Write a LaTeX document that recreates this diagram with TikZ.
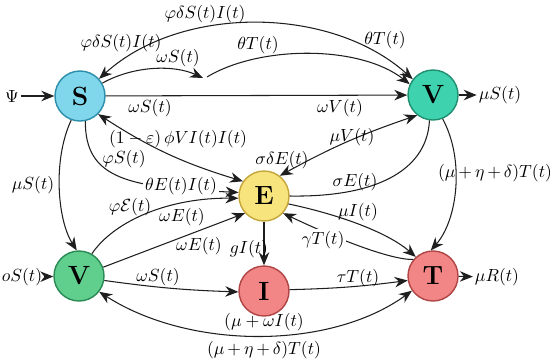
\documentclass[tikz,border=0pt]{standalone}
\usepackage{xcolor}
\usepackage{tikz}
\usetikzlibrary{arrows.meta,positioning,calc}
\definecolor{ink}{HTML}{1E1E1E}
\definecolor{sfill}{HTML}{80D6EA}
\definecolor{sline}{HTML}{2A8FAA}
\definecolor{vtfill}{HTML}{3FD2AE}
\definecolor{vtline}{HTML}{1F8F70}
\definecolor{efill}{HTML}{F8E47C}
\definecolor{eline}{HTML}{C4A53A}
\definecolor{vbfill}{HTML}{60CF8E}
\definecolor{vbline}{HTML}{2A8A55}
\definecolor{ifill}{HTML}{F28686}
\definecolor{iline}{HTML}{B04545}
\tikzset{
  comp/.style={circle, thick, minimum size=1.0cm, inner sep=0pt, font=\fontsize{15}{15}\selectfont\bfseries},
  rate/.style={inner sep=1pt, font=\normalsize},
  ratebg/.style={rate, fill=white},
  arrow/.style={-{Stealth[length=2.6mm,width=2.1mm]}, draw=ink, semithick},
  twoway/.style={{Stealth[length=2.6mm,width=2.1mm]}-{Stealth[length=2.6mm,width=2.1mm]}, draw=ink, semithick},
  plain/.style={draw=ink, semithick}
}
\begin{document}
\begin{tikzpicture}
  \useasboundingbox (0,0) rectangle (11,-7.26);

  % compartments
  \node[comp, fill=sfill, draw=sline] (S) at (1.6,-1.92) {S};
  \node[comp, fill=vtfill, draw=vtline] (Vt) at (8.66,-1.9) {V};
  \node[comp, fill=efill, draw=eline] (E) at (5.28,-3.92) {E};
  \node[comp, fill=vbfill, draw=vbline] (Vb) at (1.58,-5.52) {V};
  \node[comp, fill=ifill, draw=iline] (I) at (5.28,-5.82) {I};
  \node[comp, fill=ifill, draw=iline] (T) at (8.66,-5.52) {T};

  % inflow / outflow
  \node[rate] (psi) at (0.24,-1.92) {$\Psi$};
  \node[rate] (muS) at (10.0,-1.9) {$\mu S(t)$};
  \node[rate] (oS) at (0.44,-5.54) {$oS(t)$};
  \node[rate] (muR) at (9.94,-5.54) {$\mu R(t)$};
  \draw[arrow] (psi) -- (S);
  \draw[arrow] (Vt) -- (muS);
  \draw[arrow] (oS) -- (Vb);
  \draw[arrow] (T) -- (muR);

  % top arcs
  \coordinate (m1) at (4.06,-1.56);
  \coordinate (m2) at (4.14,-1.54);
  \draw[twoway] (S.42) .. controls (3.6,-0.1) and (6.6,-0.1) .. (Vt.142);
  \draw[arrow] (S.30) .. controls (2.7,-1.3) and (3.5,-1.3) .. (m1);
  \draw[arrow] (m2) .. controls (5.2,-0.9) and (7.2,-0.9) .. (Vt.155);
  \node[rate] at (4.1,-0.28) {$\varphi\delta S(t)I(t)$};
  \node[rate] at (2.42,-0.86) {$\varphi\delta S(t)I(t)$};
  \node[rate] at (3.56,-1.16) {$\omega S(t)$};
  \node[rate] at (5.16,-0.9) {$\theta T(t)$};
  \node[rate] at (7.7,-0.8) {$\theta T(t)$};

  % S to V
  \draw[arrow] (S) -- (Vt);
  \node[rate] at (3.0,-2.16) {$\omega S(t)$};
  \node[rate] at (6.8,-2.16) {$\omega V(t)$};

  % left side
  \draw[arrow] (S.250) .. controls (1.05,-3.2) and (1.15,-4.4) .. (Vb.95);
  \node[rate] at (0.66,-3.7) {$\mu S(t)$};
  \draw[twoway] (S.315) to[bend right=8] (E.145);
  \node[rate] at (3.56,-2.78) {$(1-\varepsilon)\,\phi VI(t)I(t)$};
  \draw[arrow] (S.282) .. controls (1.7,-3.6) and (2.6,-3.75) .. (E.172);
  \node[rate] at (2.48,-3.18) {$\varphi S(t)$};
  \node[ratebg] at (3.62,-3.72) {$\theta E(t)I(t)$};
  \draw[arrow] (Vb.60) .. controls (2.3,-4.4) and (3.4,-3.95) .. (E.185);
  \node[rate] at (2.6,-4.14) {$\varphi\mathcal{E}(t)$};
  \node[rate] at (3.64,-4.34) {$\omega E(t)$};
  \draw[arrow] (Vb.20) -- (E.222);
  \node[rate] at (3.98,-4.92) {$\omega E(t)$};

  % right side
  \draw[twoway] (E.52) to[bend left=5] (Vt.232);
  \node[rate] at (7.04,-2.74) {$\mu V(t)$};
  \node[rate] at (5.64,-3.2) {$\sigma\delta E(t)$};
  \draw[plain] (Vt.262) .. controls (8.55,-3.3) and (7.7,-3.95) .. (E.east);
  \node[rate] at (7.1,-3.64) {$\sigma E(t)$};
  \draw[arrow] (Vt.292) .. controls (9.3,-3.2) and (9.15,-4.4) .. (T.95);
  \node[rate] at (9.9,-3.46) {$(\mu\,{+}\,\eta\,{+}\,\delta)T(t)$};
  \draw[arrow] (E.342) .. controls (6.6,-4.25) and (7.7,-4.6) .. (T.132);
  \node[rate] at (7.16,-4.24) {$\mu I(t)$};
  \draw[arrow] (T.140) .. controls (7.9,-5.2) and (7.0,-4.9) .. (E.318);
  \node[ratebg] at (6.46,-4.8) {$\gamma T(t)$};

  % bottom
  \draw[arrow] (E) -- (I);
  \node[rate] at (4.98,-4.98) {$gI(t)$};
  \draw[arrow] (Vb.350) to[bend right=3] (I.182);
  \node[rate] at (3.16,-5.54) {$\omega S(t)$};
  \draw[arrow] (I.3) to[bend right=3] (T.190);
  \node[rate] at (7.16,-5.56) {$\tau T(t)$};
  \draw[twoway] (Vb.322) .. controls (3.8,-7.0) and (6.6,-7.0) .. (T.215);
  \node[rate] at (5.28,-6.44) {$(\mu+\omega I(t)$};
  \node[rate] at (5.28,-7.0) {$(\mu\,{+}\,\eta\,{+}\,\delta)T(t)$};
\end{tikzpicture}
\end{document}
